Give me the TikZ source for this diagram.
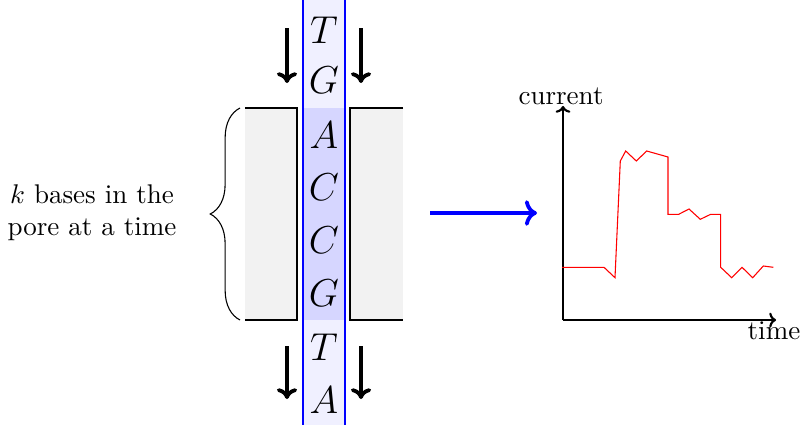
\documentclass[tikz,border=0pt]{standalone}
\usetikzlibrary{arrows.meta,decorations.pathreplacing}
\begin{document}
\begin{tikzpicture}[x=0.37pt,y=-0.37pt,
  base/.style={font=\Large, inner sep=0pt},
  flowarrow/.style={-{Computer Modern Rightarrow[length=4pt,width=7.5pt]}, line width=1.4pt},
  axis/.style={-{Computer Modern Rightarrow[length=2.5pt,width=5.5pt]}, line width=0.8pt},
  porewall/.style={line width=0.6pt}]
\useasboundingbox (0,0) rectangle (801,425);
% strand
\fill[blue!6] (303,0) rectangle (345,425);
\fill[blue!16] (303,108) rectangle (345,320);
% pore walls
\fill[gray!10] (245,108) rectangle (297,320);
\fill[gray!10] (350,108) rectangle (403,320);
\draw[porewall] (245,108) -- (297,108) -- (297,320) -- (245,320);
\draw[porewall] (403,108) -- (350,108) -- (350,320) -- (403,320);
\draw[blue, line width=0.6pt] (303,0) -- (303,425);
\draw[blue, line width=0.6pt] (345,0) -- (345,425);
% bases
\node[base] (b1) at (324,30) {$T$};
\node[base] (b2) at (324,80) {$G$};
\node[base] (b3) at (324,135) {$A$};
\node[base] (b4) at (324,187) {$C$};
\node[base] (b5) at (324,240) {$C$};
\node[base] (b6) at (324,293) {$G$};
\node[base] (b7) at (324,347) {$T$};
\node[base] (b8) at (324,400) {$A$};
% flow arrows
\coordinate (al1) at (287,28); \coordinate (al2) at (287,83);
\coordinate (ar1) at (361,28); \coordinate (ar2) at (361,83);
\coordinate (bl1) at (287,346); \coordinate (bl2) at (287,399);
\coordinate (br1) at (361,346); \coordinate (br2) at (361,399);
\draw[flowarrow] (al1) -- (al2);
\draw[flowarrow] (ar1) -- (ar2);
\draw[flowarrow] (bl1) -- (bl2);
\draw[flowarrow] (br1) -- (br2);
% brace
\coordinate (brtop) at (240,108);
\coordinate (brbot) at (240,320);
\draw[decorate, decoration={brace, amplitude=11pt}, line width=0.4pt] (brbot) -- (brtop);
\node[align=center, inner sep=0pt] (klabel) at (92,213) {$k$ bases in the\\pore at a time};
% blue arrow
\coordinate (ba1) at (430,213);
\coordinate (ba2) at (537,213);
\draw[blue, line width=1.4pt, -{Computer Modern Rightarrow[length=4.5pt,width=9.5pt]}] (ba1) -- (ba2);
% graph
\coordinate (origin) at (563,320);
\coordinate (ytop) at (563,106);
\coordinate (xend) at (776,320);
\draw[axis] (origin) -- (ytop);
\draw[axis] (origin) -- (xend);
\node[anchor=base, inner sep=0pt] (ylab) at (561,104) {current};
\node[anchor=base, inner sep=0pt] (xlab) at (774,339) {time};
\draw[red, line width=0.4pt] (562,267.3) -- (604,267.3) -- (615,277.7) -- (620.3,161) -- (625.7,151) -- (636.3,161) -- (646.7,151) -- (668,157) -- (668,214.3) -- (678.7,214.3) -- (689,209) -- (700.3,219.3) -- (710.7,214.3) -- (720.7,214.3) -- (720.7,267.3) -- (731.7,277.7) -- (742,267.3) -- (752.7,277.7) -- (763.3,266) -- (773.3,267.3);
\end{tikzpicture}
\end{document}
